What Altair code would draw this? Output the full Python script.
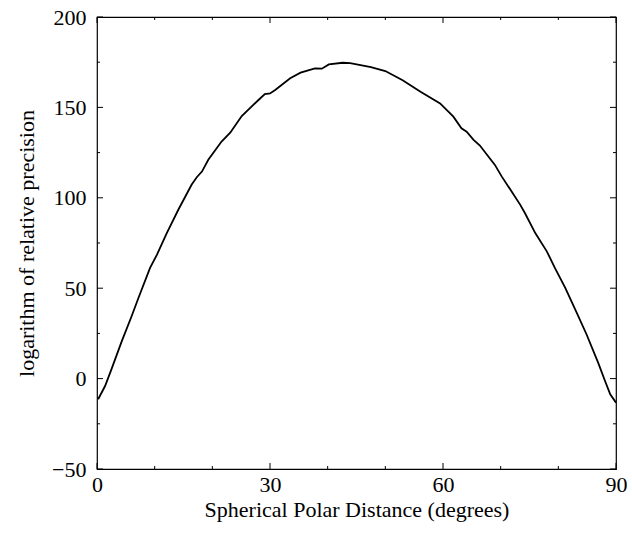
import altair as alt
import pandas as pd

# curve
deg = [0.2, 1.4, 2.5, 4.3, 6.0, 7.2, 9.2, 10.4, 12.1, 14.1, 16.4, 17.3, 18.2, 19.3,
       21.6, 23.1, 25.1, 28.0, 29.1, 30.0, 30.9, 33.5, 35.3, 37.8, 39.0, 40.2,
       42.6, 43.9, 45.7, 47.5, 50.0, 53.0, 56.1, 59.5, 61.8, 63.2, 64.1, 65.3,
       66.4, 68.1, 69.0, 70.2, 71.9, 73.4, 74.2, 76.0, 78.0, 79.4, 81.2, 83.2,
       84.9, 86.9, 88.1, 89.0, 90.0]
val = [-11.4, -4.1, 5.1, 20.7, 34.5, 44.7, 61.2, 68.6, 80.5, 93.4, 107.2, 111.4, 114.5, 121.0,
       131.1, 136.0, 145.2, 154.1, 157.4, 157.7, 159.6, 166.1, 169.2, 171.6, 171.4, 173.8,
       174.7, 174.5, 173.4, 172.3, 170.1, 165.0, 158.7, 152.2, 144.9, 138.4, 136.6, 132.0,
       128.9, 121.9, 118.2, 111.7, 103.5, 96.1, 91.6, 80.5, 70.4, 61.2, 50.2, 36.4,
       24.4, 8.8, -1.3, -8.7, -13.3]

x_major = [0, 30, 60, 90]
x_minor = [10, 20, 40, 50, 70, 80]
y_major = [-50, 0, 50, 100, 150, 200]
y_minor = [-25, 25, 75, 125, 175]

W, H = 519, 452
FONT = "Liberation Serif"
FS = 22

xs = alt.Scale(domain=[0, 90], nice=False, zero=False)
ys = alt.Scale(domain=[-50, 200], nice=False, zero=False)

curve = pd.DataFrame({"deg": deg, "val": val})

line = alt.Chart(curve).mark_line(color="black", strokeWidth=1.8, clip=True).encode(
    x=alt.X("deg:Q", scale=xs,
            axis=alt.Axis(values=x_major, format="d", tickSize=0, domain=False, grid=False,
                          labelPadding=5, labelFlush=False,
                          title="Spherical Polar Distance (degrees)", titlePadding=4)),
    y=alt.Y("val:Q", scale=ys,
            axis=alt.Axis(values=y_major, format="d", tickSize=0, domain=False, grid=False,
                          labelPadding=11, labelFlush=False,
                          title="logarithm of relative precision", titlePadding=13)),
)

def xticks(vals, length):
    d = pd.DataFrame({"t": vals})
    b = alt.Chart(d).mark_rule(color="black", strokeWidth=1).encode(
        x=alt.X("t:Q", scale=xs), y=alt.value(H), y2=alt.value(H - length))
    t = alt.Chart(d).mark_rule(color="black", strokeWidth=1).encode(
        x=alt.X("t:Q", scale=xs), y=alt.value(0), y2=alt.value(length))
    return [b, t]

def yticks(vals, length):
    d = pd.DataFrame({"t": vals})
    l = alt.Chart(d).mark_rule(color="black", strokeWidth=1).encode(
        y=alt.Y("t:Q", scale=ys), x=alt.value(0), x2=alt.value(length))
    r = alt.Chart(d).mark_rule(color="black", strokeWidth=1).encode(
        y=alt.Y("t:Q", scale=ys), x=alt.value(W), x2=alt.value(W - length))
    return [l, r]

layers = [line] + xticks(x_major, 6) + xticks(x_minor, 3) + yticks(y_major, 6) + yticks(y_minor, 3)

chart = alt.layer(*layers).properties(
    width=W, height=H,
    autosize=alt.AutoSizeParams(type="none"),
    padding={"left": 97, "top": 17, "right": 632 - 97 - W, "bottom": 539 - 17 - H},
    background="white",
).configure_view(stroke="black", strokeWidth=1.2).configure_axis(
    labelFont=FONT, titleFont=FONT, labelFontSize=FS, titleFontSize=FS,
    titleFontWeight="normal", labelColor="black", titleColor="black",
)

chart.save("out.html", embed_options={"renderer": "svg", "actions": False})
